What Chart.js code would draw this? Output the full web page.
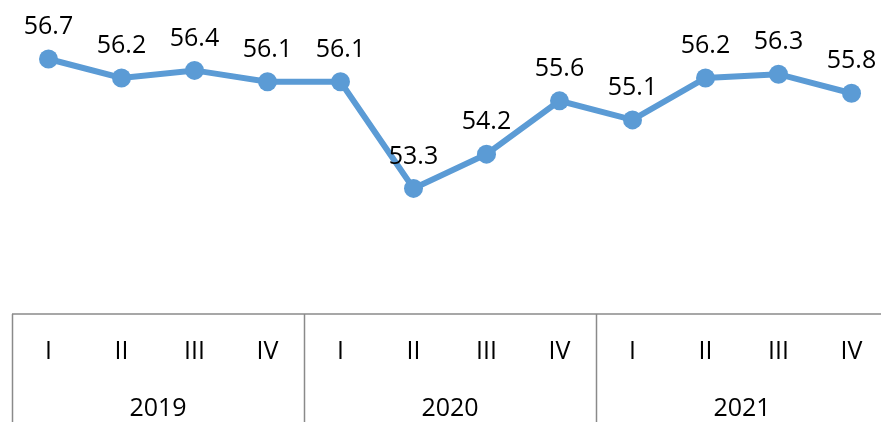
<!DOCTYPE html>
<html>
<head>
<meta charset="utf-8">
<script src="https://cdn.jsdelivr.net/npm/chart.js@4/dist/chart.umd.min.js"></script>
<style>
  body { margin: 0; overflow: hidden; background: #fff; }
  .wrap { width: 900px; height: 428px; }
</style>
</head>
<body>
<div class="wrap"><canvas id="myChart"></canvas></div>
<script>
const quarters = ['I', 'II', 'III', 'IV', 'I', 'II', 'III', 'IV', 'I', 'II', 'III', 'IV']
const years = ['2019', '2020', '2021']
const values = [56.7, 56.2, 56.4, 56.1, 56.1, 53.3, 54.2, 55.6, 55.1, 56.2, 56.3, 55.8]

const font = { family: 'Open Sans', size: 25 }

// value labels above the points
const valueLabels = {
  id: 'valueLabels',
  afterDatasetsDraw(chart) {
    const ctx = chart.ctx
    const meta = chart.getDatasetMeta(0)
    ctx.save()
    ctx.font = `${font.size}px ${font.family}`
    ctx.fillStyle = '#000'
    ctx.textAlign = 'center'
    ctx.textBaseline = 'middle'
    meta.data.forEach((pt, i) => {
      ctx.fillText(values[i].toFixed(1), pt.x, pt.y - 32)
    })
    ctx.restore()
  }
}

// table-like borders under the plot
const tableLines = {
  id: 'tableLines',
  afterDraw(chart) {
    const ctx = chart.ctx
    const xs = chart.scales.x
    const bottom = chart.chartArea.bottom
    const step = xs.width / quarters.length
    ctx.save()
    ctx.strokeStyle = '#8a8a8a'
    ctx.lineWidth = 1.5
    ctx.beginPath()
    ctx.moveTo(xs.left, bottom)
    ctx.lineTo(xs.right, bottom)
    for (let i = 0; i <= quarters.length; i += 4) {
      const px = Math.round(xs.left + i * step) + 0.5
      ctx.moveTo(px, bottom)
      ctx.lineTo(px, chart.height)
    }
    ctx.stroke()
    ctx.restore()
  }
}

const ctx = document.getElementById('myChart')

new Chart(ctx, {
  type: 'line',
  data: {
    labels: quarters,
    datasets: [{
      data: values,
      borderColor: '#5b9bd5',
      backgroundColor: '#5b9bd5',
      borderWidth: 6,
      pointRadius: 9.5,
      pointBorderWidth: 0,
      pointHoverRadius: 9.5,
      tension: 0
    }]
  },
  options: {
    responsive: true,
    maintainAspectRatio: false,
    animation: false,
    layout: { padding: { left: 12, right: 12, top: 8.5, bottom: 0 } },
    plugins: { legend: { display: false }, tooltip: { enabled: false } },
    scales: {
      x: {
        offset: true,
        grid: { display: false, drawTicks: false },
        border: { display: false },
        ticks: { color: '#000', font: font, padding: 23, maxRotation: 0 }
      },
      x2: {
        type: 'category',
        labels: years,
        position: 'bottom',
        offset: true,
        grid: { display: false, drawTicks: false },
        border: { display: false },
        ticks: { color: '#000', font: font, padding: 4, maxRotation: 0 }
      },
      y: {
        display: false,
        min: 50,
        max: 58
      }
    }
  },
  plugins: [valueLabels, tableLines]
})
</script>
</body>
</html>
